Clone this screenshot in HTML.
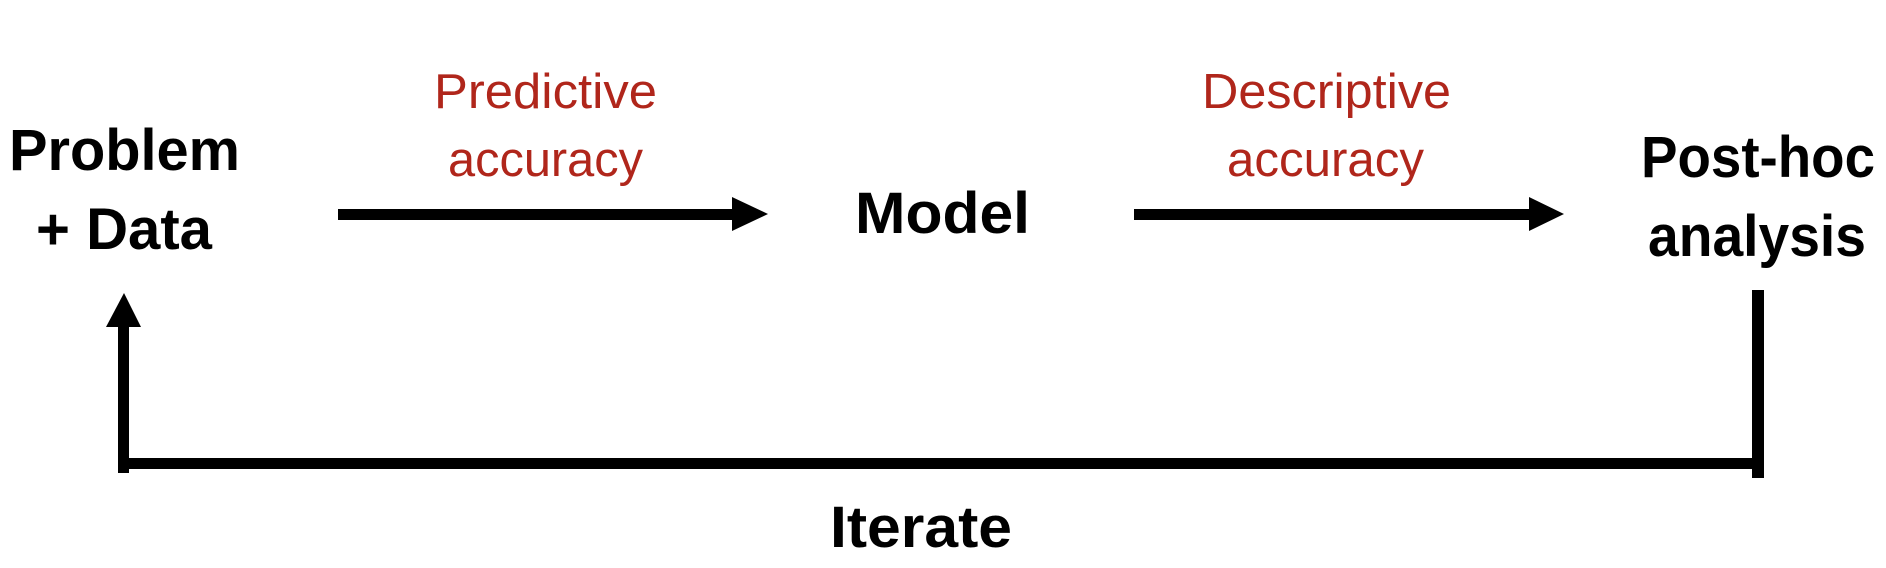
<!DOCTYPE html>
<html><head><meta charset="utf-8"><style>
html,body{margin:0;padding:0;background:#fff;width:1886px;height:568px;overflow:hidden}
svg text{font-family:"Liberation Sans",sans-serif}
</style></head><body>
<svg width="1886" height="568" viewBox="0 0 1886 568" xmlns="http://www.w3.org/2000/svg">
<g fill="#000" font-weight="bold" font-size="58">
<text x="9" y="170" textLength="231" lengthAdjust="spacingAndGlyphs">Problem</text>
<text x="36" y="249" textLength="176" lengthAdjust="spacingAndGlyphs">+ Data</text>
<text x="855" y="233" textLength="175" lengthAdjust="spacingAndGlyphs">Model</text>
<text x="1641" y="177" textLength="234" lengthAdjust="spacingAndGlyphs">Post-hoc</text>
<text x="1648" y="256" textLength="218" lengthAdjust="spacingAndGlyphs">analysis</text>
<text x="830" y="547" textLength="182" lengthAdjust="spacingAndGlyphs">Iterate</text>
</g>
<g fill="#b0261b" font-size="49">
<text x="434" y="108" textLength="223" lengthAdjust="spacingAndGlyphs">Predictive</text>
<text x="448" y="176" textLength="195" lengthAdjust="spacingAndGlyphs">accuracy</text>
<text x="1202" y="108" textLength="249" lengthAdjust="spacingAndGlyphs">Descriptive</text>
<text x="1227" y="176" textLength="197" lengthAdjust="spacingAndGlyphs">accuracy</text>
</g>
<g fill="#000">
<rect x="338" y="209" width="396" height="11"/>
<polygon points="732,197 768,214 732,231"/>
<rect x="1134" y="209" width="397" height="11"/>
<polygon points="1529,197 1564,214 1529,231"/>
<rect x="118" y="325" width="11" height="148"/>
<polygon points="106,327 124,293 141,327"/>
<rect x="118" y="458" width="1646" height="11"/>
<rect x="1752" y="290" width="12" height="188"/>
</g>
</svg>
</body></html>
